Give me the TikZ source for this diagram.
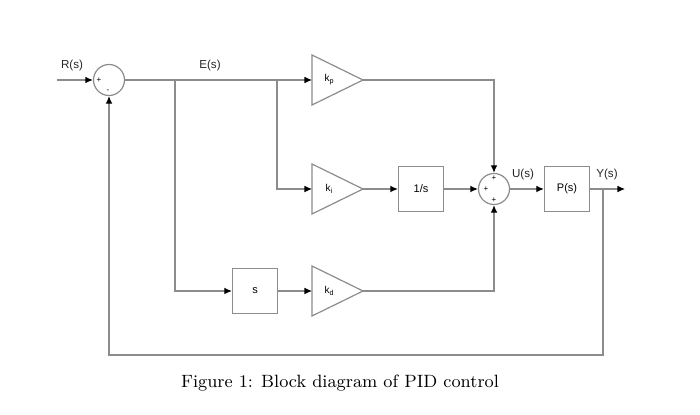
\documentclass[tikz,border=0pt]{standalone}
\usepackage{fontspec}
\newfontfamily\lblfont{Liberation Sans}
\usepackage{tikz}
\usetikzlibrary{arrows.meta,calc}

% small subscript for the gain labels
\newcommand{\gainsub}[1]{k\raisebox{-0.9pt}{\fontsize{3.6}{4}\selectfont #1}}

\tikzset{
  wire/.style={draw=black!45, line width=0.6pt},
  sig/.style={wire, -{Latex[length=3.8pt,width=3.4pt,color=black]}},
  blockbox/.style={draw=black!45, line width=0.6pt, minimum size=22.5pt,
    inner sep=0pt, font=\lblfont\fontsize{5.5}{6}\selectfont},
  sumnode/.style={circle, draw=black!45, line width=0.6pt, minimum size=15.5pt,
    inner sep=0pt},
  lbl/.style={font=\lblfont\fontsize{5.8}{6.5}\selectfont, inner sep=0pt, text=black!85},
  gainlbl/.style={font=\lblfont\fontsize{5}{6}\selectfont, inner sep=0pt},
  sgn/.style={font=\lblfont\fontsize{4}{4}\selectfont, inner sep=0pt},
}

\begin{document}
\begin{tikzpicture}[x=0.5pt, y=-0.5pt]
  \useasboundingbox (0,0) rectangle (700,415);

  % Summing junctions
  \node[sumnode] (sum1) at (109,80) {};
  \node[sumnode] (sum2) at (494,189) {};
  \node[sgn] (s1p) at (99,80) {+};
  \node[sgn] (s1m) at (108,91) {-};
  \node[sgn] (s2t) at (494,178) {+};
  \node[sgn] (s2l) at (486,189) {+};
  \node[sgn] (s2b) at (494,200) {+};

  % Gain triangles
  \draw[wire] (312,55) -- (363,80) -- (312,105) -- cycle;
  \draw[wire] (312,164) -- (363,189) -- (312,214) -- cycle;
  \draw[wire] (312,266) -- (363,291) -- (312,316) -- cycle;
  \node[gainlbl] (kp) at (329,80) {\gainsub{p}};
  \node[gainlbl] (ki) at (329,189) {\gainsub{i}};
  \node[gainlbl] (kd) at (329,291) {\gainsub{d}};
  \coordinate (kpin) at (312,80);  \coordinate (kpout) at (363,80);
  \coordinate (kiin) at (312,189); \coordinate (kiout) at (363,189);
  \coordinate (kdin) at (312,291); \coordinate (kdout) at (363,291);

  % Blocks
  \node[blockbox] (integ) at (421,189) {1/s};
  \node[blockbox] (deriv) at (255,291) {s};
  \node[blockbox] (plant) at (567,189) {P(s)};

  % Branch points and free ends
  \coordinate (rin) at (57,80);
  \coordinate (b1) at (175,80);
  \coordinate (b2) at (277,80);
  \coordinate (b3) at (603,189);
  \coordinate (yout) at (625,189);
  \coordinate (fb) at (603,355);

  % Forward path
  \draw[sig] (rin) -- (sum1);
  \draw[sig] (sum1) -- (kpin);
  \draw[sig] (b2) |- (kiin);
  \draw[sig] (b1) |- (deriv);
  \draw[sig] (kiout) -- (integ);
  \draw[sig] (integ) -- (sum2);
  \draw[sig] (deriv) -- (kdin);
  \draw[sig] (kpout) -| (sum2);
  \draw[sig] (kdout) -| (sum2);
  \draw[sig] (sum2) -- (plant);
  \draw[sig] (plant) -- (yout);

  % Feedback
  \draw[sig] (b3) -- (fb) -| (sum1);

  % Signal labels
  \node[lbl] (rlbl) at (72,66) {R(s)};
  \node[lbl] (elbl) at (210,66) {E(s)};
  \node[lbl] (ulbl) at (523,175) {U(s)};
  \node[lbl] (ylbl) at (607,175) {Y(s)};

  % Caption
  \node[font=\fontsize{8.9}{11}\selectfont, inner sep=0pt] (cap) at (340,383)
    {Figure 1: Block diagram of PID control};
\end{tikzpicture}
\end{document}
